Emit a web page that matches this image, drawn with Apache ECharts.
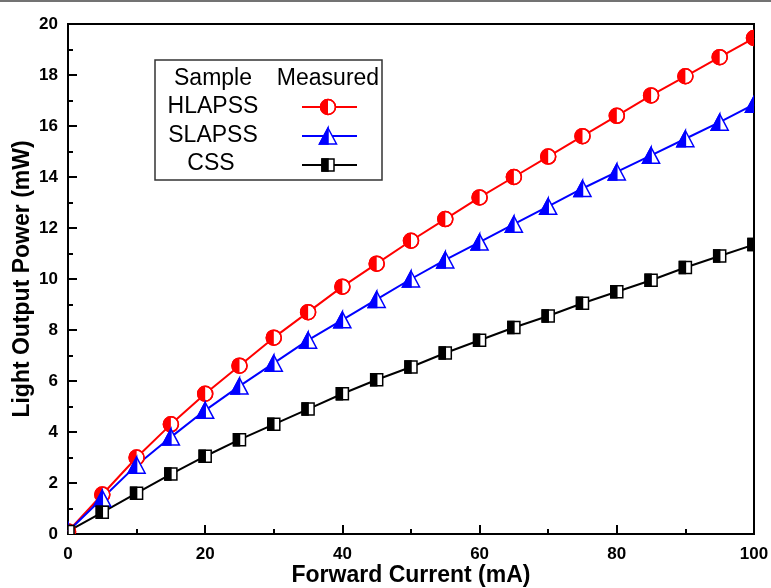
<!DOCTYPE html>
<html>
<head>
<meta charset="utf-8">
<script src="https://cdn.jsdelivr.net/npm/echarts@6/dist/echarts.min.js"></script>
<style>
html,body{margin:0;padding:0;background:#fff;}
#c{width:771px;height:588px;}
</style>
</head>
<body>
<div id="c"></div>
<script>
const current = [0,5,10,15,20,25,30,35,40,45,50,55,60,65,70,75,80,85,90,95,100];
const hlapss = [0.1,1.55,3.0,4.3,5.5,6.6,7.7,8.7,9.7,10.6,11.5,12.35,13.2,14.0,14.8,15.6,16.4,17.2,17.95,18.7,19.45];
const slapss = [0.1,1.4,2.7,3.8,4.85,5.8,6.7,7.6,8.4,9.2,10.0,10.75,11.45,12.15,12.85,13.55,14.2,14.85,15.5,16.15,16.85];
const css = [0.1,0.85,1.6,2.35,3.05,3.7,4.3,4.9,5.5,6.05,6.55,7.1,7.6,8.1,8.55,9.05,9.5,9.95,10.45,10.9,11.35];
const seriesNames = ['HLAPSS','SLAPSS','CSS'];
const legendHeader = ['Sample','Measured'];

const FONT = '"Liberation Sans", Arial, sans-serif';
const colors = ['#ff0000','#0000ff','#000000'];
const shapes = ['circle','triangle','square'];

function markerShapes(shape, x, y, color) {
  const lw = 1.5;
  if (shape === 'circle') {
    const r = 7.5;
    return [
      {type:'circle', shape:{cx:x, cy:y, r:r}, style:{fill:'#fff', stroke:color, lineWidth:lw}},
      {type:'sector', shape:{cx:x, cy:y, r:r, r0:0, startAngle:Math.PI/2, endAngle:Math.PI*3/2, clockwise:true}, style:{fill:color}},
      {type:'circle', shape:{cx:x, cy:y, r:r}, style:{fill:null, stroke:color, lineWidth:lw}}
    ];
  } else if (shape === 'triangle') {
    const w = 17, h = 16;
    return [
      {type:'polygon', shape:{points:[[x,y-h/2],[x+w/2,y+h/2],[x-w/2,y+h/2]]}, style:{fill:'#fff', stroke:color, lineWidth:lw}},
      {type:'polygon', shape:{points:[[x,y-h/2],[x,y+h/2],[x-w/2,y+h/2]]}, style:{fill:color, stroke:color, lineWidth:lw}}
    ];
  } else {
    const s = 12;
    return [
      {type:'rect', shape:{x:x-s/2, y:y-s/2, width:s, height:s}, style:{fill:'#fff', stroke:color, lineWidth:lw}},
      {type:'rect', shape:{x:x-s/2, y:y-s/2, width:s/2, height:s}, style:{fill:color, stroke:color, lineWidth:lw}}
    ];
  }
}

const datasets = [hlapss, slapss, css];
const series = [];
datasets.forEach((vals, i) => {
  const data = current.map((x, k) => [x, vals[k]]);
  series.push({
    type:'line', name:seriesNames[i], data:data, symbol:'none',
    lineStyle:{color:colors[i], width:2}, z:2, animation:false
  });
  series.push({
    type:'custom', name:seriesNames[i] + ' marker', data:data, z:3, clip:true, animation:false,
    renderItem:function(params, api){
      const p = api.coord([api.value(0), api.value(1)]);
      return {type:'group', children: markerShapes(shapes[i], p[0], p[1], colors[i])};
    }
  });
});

// legend drawn as graphic
const LF = '23px ' + FONT;
const lg = [];
lg.push({type:'rect', shape:{x:155, y:60, width:227, height:120}, style:{fill:'#fff', stroke:'#333', lineWidth:1.5}, z:10});
lg.push({type:'text', x:213, y:79, style:{text:legendHeader[0], font:LF, fill:'#000', textAlign:'center', textVerticalAlign:'middle'}, z:11});
lg.push({type:'text', x:328, y:79, style:{text:legendHeader[1], font:LF, fill:'#000', textAlign:'center', textVerticalAlign:'middle'}, z:11});
const rowTextY = [107, 136, 164];
const rowTx = [213, 213, 211];
const rowLineY = [107, 136, 165];
seriesNames.forEach((n, i) => {
  lg.push({type:'text', x:rowTx[i], y:rowTextY[i], style:{text:n, font:LF, fill:'#000', textAlign:'center', textVerticalAlign:'middle'}, z:11});
  lg.push({type:'line', shape:{x1:302, y1:rowLineY[i], x2:357, y2:rowLineY[i]}, style:{stroke:colors[i], lineWidth:2}, z:11});
  markerShapes(shapes[i], 328, rowLineY[i], colors[i]).forEach(s => { s.z = 12; lg.push(s); });
});
lg.push({type:'line', shape:{x1:0, y1:1, x2:771, y2:1}, style:{stroke:'#444', lineWidth:1.5}, z:10});

const chart = echarts.init(document.getElementById('c'), null, {renderer:'canvas'});
chart.setOption({
  backgroundColor:'#fff',
  animation:false,
  grid:{left:68, right:17, top:24, bottom:54, containLabel:false, outerBoundsMode:'none', show:true, borderColor:'#000', borderWidth:2, backgroundColor:'transparent'},
  xAxis:{
    type:'value', min:0, max:100, interval:20,
    name:'Forward Current (mA)', nameLocation:'middle', nameGap:30, nameMoveOverlap:false,
    nameTextStyle:{fontFamily:FONT, fontWeight:'bold', fontSize:23, color:'#000'},
    axisLine:{show:true, lineStyle:{color:'#000', width:2}},
    axisTick:{show:true, inside:true, length:9, lineStyle:{color:'#000', width:2}},
    minorTick:{show:true, splitNumber:2, length:5, lineStyle:{color:'#000', width:2}},
    axisLabel:{fontFamily:FONT, fontWeight:'bold', fontSize:17, color:'#000', margin:12},
    splitLine:{show:false}
  },
  yAxis:{
    type:'value', min:0, max:20, interval:2,
    name:'Light Output Power (mW)', nameLocation:'middle', nameGap:34, nameRotate:90, nameMoveOverlap:false,
    nameTextStyle:{fontFamily:FONT, fontWeight:'bold', fontSize:23, color:'#000'},
    axisLine:{show:true, lineStyle:{color:'#000', width:2}},
    axisTick:{show:true, inside:true, length:9, lineStyle:{color:'#000', width:2}},
    minorTick:{show:true, splitNumber:2, length:5, lineStyle:{color:'#000', width:2}},
    axisLabel:{fontFamily:FONT, fontWeight:'bold', fontSize:17, color:'#000', margin:10},
    splitLine:{show:false}
  },
  series:series,
  graphic:lg
});
</script>
</body>
</html>
